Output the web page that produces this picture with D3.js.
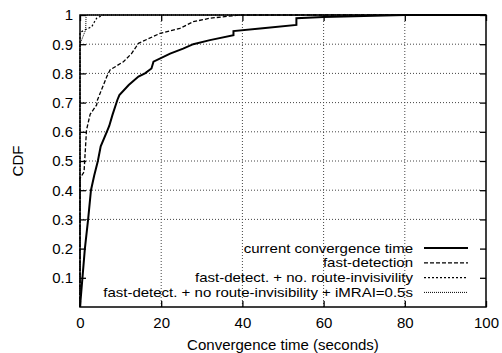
<!DOCTYPE html>
<html>
<head>
<meta charset="utf-8">
<script src="https://cdn.jsdelivr.net/npm/d3@7"></script>
<style>
  body { margin: 0; background: #fff; }
  svg { font-family: "Liberation Sans", Arial, sans-serif; }
</style>
</head>
<body>
<svg id="chart" width="502" height="353"></svg>
<script>
// data: [seconds, cdf]
const currentSeries = [[0, 0], [0.6, 0.1], [1.2, 0.2], [2.0, 0.3], [2.7, 0.4], [3.5, 0.45], [4.4, 0.5], [5.1, 0.55],
  [6.6, 0.6], [7.2, 0.62], [8.0, 0.658], [9.2, 0.709], [9.7, 0.726], [12, 0.76], [14.4, 0.789], [16, 0.8],
  [17.6, 0.817], [18.1, 0.84], [22.2, 0.868], [25.4, 0.885], [27.9, 0.9], [32, 0.914], [37.8, 0.931],
  [37.8, 0.945], [45, 0.955], [53.3, 0.966], [53.3, 0.989], [60, 0.993], [70, 0.997], [80, 1], [100, 1]];
const fastDetection = [[0, 0], [0, 0.44], [1.0, 0.463], [1.6, 0.606], [2.5, 0.66], [4.1, 0.692], [4.3, 0.709],
  [6.6, 0.789], [7.4, 0.812], [10.7, 0.84], [12.7, 0.868], [14.4, 0.903], [19.7, 0.937], [24.6, 0.954],
  [27.9, 0.977], [32, 0.989], [39.4, 1], [100, 1]];
const noInvisibility = [[0, 0], [0, 0.94], [1.2, 0.949], [2.9, 0.96], [3.5, 0.975], [4.1, 0.989], [5.7, 1], [100, 1]];
const withMrai = [[0, 0], [0, 0.9], [1.4, 0.95], [1.5, 1], [100, 1]];

const seriesNames = ['current convergence time', 'fast-detection',
  'fast-detect. + no. route-invisivility', 'fast-detect. + no route-invisibility + iMRAI=0.5s'];
const xTicks = [0, 20, 40, 60, 80, 100];
const yTicks = [0.1, 0.2, 0.3, 0.4, 0.5, 0.6, 0.7, 0.8, 0.9, 1];
const yGrid = [0.3, 0.4, 0.5, 0.6, 0.7, 0.8, 0.9];
const xGrid = [20, 40, 60, 80];

const margin = { top: 15, right: 16, bottom: 46, left: 80 };
const width = 502 - margin.left - margin.right;
const height = 353 - margin.top - margin.bottom;
const fontSize = '15px';

const svg = d3.select('#chart');
const g = svg.append('g').attr('transform', `translate(${margin.left},${margin.top})`);

const x = d3.scaleLinear().domain([0, 100]).range([0, width]);
const y = d3.scaleLinear().domain([0, 1]).range([height, 0]);

// dotted grid
g.selectAll('.hgrid').data(yGrid).enter().append('line')
  .attr('x1', 0).attr('x2', width - 6)
  .attr('y1', d => y(d)).attr('y2', d => y(d))
  .attr('stroke', '#444').attr('stroke-width', 1).attr('stroke-dasharray', '1,2');
g.selectAll('.vgrid').data(xGrid).enter().append('line')
  .attr('x1', d => x(d)).attr('x2', d => x(d))
  .attr('y1', 6).attr('y2', height)
  .attr('stroke', '#444').attr('stroke-width', 1).attr('stroke-dasharray', '1,2');

// axes with inward ticks, mirrored
const fmt = d => d === 1 ? '1' : d3.format('.1f')(d);
const styleAxis = sel => {
  sel.select('.domain').remove();
  sel.selectAll('line').attr('stroke', '#000').attr('stroke-width', 1.3);
  sel.selectAll('text').attr('fill', '#000').style('font-size', fontSize);
};
g.append('g').attr('transform', `translate(0,${height})`)
  .call(d3.axisBottom(x).tickValues(xTicks).tickSize(-6).tickPadding(10)).call(styleAxis);
g.append('g')
  .call(d3.axisLeft(y).tickValues(yTicks).tickFormat(fmt).tickSize(-6).tickPadding(7)).call(styleAxis);
g.append('g')
  .call(d3.axisTop(x).tickValues(xTicks).tickSize(-6).tickFormat('')).call(styleAxis);
g.append('g').attr('transform', `translate(${width},0)`)
  .call(d3.axisRight(y).tickValues(yTicks).tickSize(-6).tickFormat('')).call(styleAxis);

// series
const series = [
  { data: withMrai, width: 1, dash: '1,1' },
  { data: noInvisibility, width: 1.2, dash: '2,2' },
  { data: fastDetection, width: 1.3, dash: '4,2' },
  { data: currentSeries, width: 2, dash: null }
];
const line = d3.line().x(d => x(d[0])).y(d => y(d[1]));
series.forEach(s => {
  g.append('path').datum(s.data)
    .attr('d', line)
    .attr('fill', 'none')
    .attr('stroke', '#000')
    .attr('stroke-width', s.width)
    .attr('stroke-dasharray', s.dash);
});

// frame
g.append('rect').attr('width', width).attr('height', height)
  .attr('fill', 'none').attr('stroke', '#000').attr('stroke-width', 1.5);

// legend: rows are tight, so use a smaller font stretched to the reference width
const legendStyles = [series[3], series[2], series[1], series[0]];
const legend = g.append('g');
seriesNames.forEach((name, i) => {
  const ly = 233 + i * 14.8;
  const t = legend.append('text')
    .attr('x', 333).attr('y', ly).attr('dy', '0.35em')
    .attr('text-anchor', 'end').style('font-size', '13px')
    .text(name);
  const len = t.node().getComputedTextLength();
  t.attr('textLength', len * 15 / 13).attr('lengthAdjust', 'spacingAndGlyphs');
  legend.append('line')
    .attr('x1', 344).attr('x2', 388)
    .attr('y1', ly).attr('y2', ly)
    .attr('stroke', '#000')
    .attr('stroke-width', legendStyles[i].width)
    .attr('stroke-dasharray', legendStyles[i].dash);
});

// axis titles
svg.append('text')
  .attr('x', margin.left + width / 2).attr('y', 350)
  .attr('text-anchor', 'middle').style('font-size', fontSize)
  .text('Convergence time (seconds)');
svg.append('text')
  .attr('transform', `translate(23,${margin.top + height / 2}) rotate(-90)`)
  .attr('text-anchor', 'middle').style('font-size', fontSize)
  .text('CDF');
</script>
</body>
</html>
